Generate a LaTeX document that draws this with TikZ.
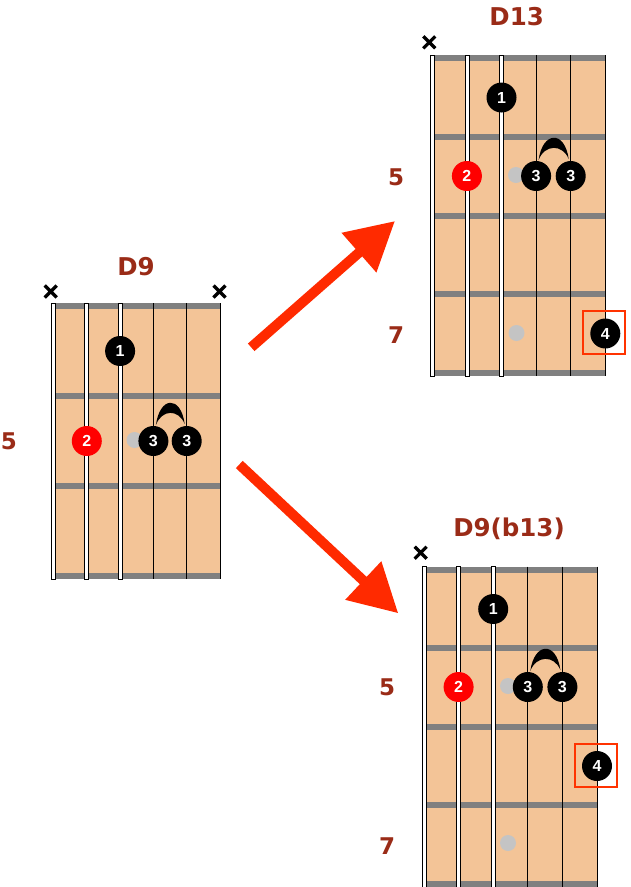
\documentclass[tikz,border=0pt]{standalone}
\usepackage{fontspec}
\setmainfont{DejaVu Sans}
\newfontfamily\dotfont{Liberation Sans}
\usetikzlibrary{arrows.meta,calc}
\definecolor{boardc}{HTML}{F3C497}
\definecolor{fretc}{HTML}{808080}
\definecolor{titlec}{HTML}{9A2B17}
\definecolor{arrowc}{HTML}{FF2A00}
\definecolor{reddot}{HTML}{FF0000}
\definecolor{graydot}{HTML}{C4C4C4}
\definecolor{boxc}{HTML}{FF3300}
\tikzset{
  fdot/.style={circle,fill=black,minimum size=30pt,inner sep=0pt,text=white,font=\dotfont\fontsize{16}{16}\selectfont\bfseries},
  rdot/.style={fdot,fill=reddot},
  gdot/.style={circle,fill=graydot,minimum size=16pt,inner sep=0pt},
  title/.style={anchor=base,inner sep=0pt,text=titlec,font=\fontsize{24.5}{24.5}\selectfont\bfseries},
  fretno/.style={anchor=base,inner sep=0pt,text=titlec,font=\fontsize{23}{23}\selectfont\bfseries},
  mutex/.style={line width=3.3pt},
  bigarrow/.style={arrowc,line width=10pt,-{Triangle[length=48pt,width=50pt]}},
  hlbox/.style={draw=boxc,line width=2pt},
}
% #1 x0, #2 dx, #3 y0, #4 dy, #5 number of frets
\newcommand{\drawboard}[5]{%
  \fill[boardc] (#1,#3) rectangle ({#1+5*#2},{#3+#5*#4});
  \foreach \j in {0,...,#5} \fill[fretc] (#1,{#3+\j*#4-3}) rectangle ({#1+5*#2},{#3+\j*#4+3});
  \foreach \i in {0,1,2} \filldraw[fill=white,draw=black,line width=0.8pt] ({#1+\i*#2-2},{#3-3}) rectangle ({#1+\i*#2+2},{#3+#5*#4+3});
  \foreach \i in {3,4,5} \draw[line width=1pt] ({#1+\i*#2},{#3-3}) -- ({#1+\i*#2},{#3+#5*#4+3});
}
\newcommand{\mutemark}[2]{\draw[mutex] (#1-6,#2-6) -- (#1+6,#2+6) (#1-6,#2+6) -- (#1+6,#2-6);}
% slur between two dots (names)
\newcommand{\slur}[2]{%
  \fill ($(#1)+(2.5,-16)$) .. controls +(4,-29) and +(-4,-29) .. ($(#2)+(-2,-17)$)
        .. controls +(-6,-15) and +(6,-16) .. ($(#1)+(2.5,-16)$);}
\begin{document}
\begin{tikzpicture}[x=1pt,y=-1pt]
\useasboundingbox (0,0) rectangle (630,887);
\fill[white] (0,0) rectangle (630,887);

% ---------- D9 ----------
\drawboard{53.5}{33.3}{306}{90}{3}
\node[title] (t1) at (136,275) {D9};
\mutemark{50.7}{291.5}
\mutemark{219.5}{291.5}
\node[fretno] (f1) at (9,449.3) {5};
\node[gdot] (g1) at (134.5,440) {};
\node[fdot] (a1) at (120.1,351) {1};
\node[rdot] (a2) at (86.8,441) {2};
\node[fdot] (a3) at (153.4,441) {3};
\node[fdot] (a4) at (186.7,441) {3};
\slur{a3}{a4}

% ---------- D13 ----------
\drawboard{432.3}{34.6}{58}{78.75}{4}
\node[title] (t2) at (516.7,25) {D13};
\mutemark{429.3}{42.3}
\node[fretno] (f2) at (396,185) {5};
\node[fretno] (f3) at (396,343.3) {7};
\node[gdot] (g2) at (516,175) {};
\node[gdot] (g3) at (516.5,333) {};
\node[fdot] (b1) at (501.5,97.5) {1};
\node[rdot] (b2) at (466.9,176) {2};
\node[fdot] (b3) at (536.1,176) {3};
\node[fdot] (b4) at (570.7,176) {3};
\node[fdot] (b5) at (605.3,333.5) {4};
\slur{b3}{b4}
\draw[hlbox] (582.5,310.5) rectangle (624.5,353.5);

% ---------- D9(b13) ----------
\drawboard{424}{34.6}{569.5}{78.6}{4}
\node[title] (t3) at (509,536.7) {D9(b13)};
\mutemark{420.7}{552.7}
\node[fretno] (f4) at (387,695.7) {5};
\node[fretno] (f5) at (387,854) {7};
\node[gdot] (g4) at (508,686) {};
\node[gdot] (g5) at (508,843) {};
\node[fdot] (c1) at (493.2,609) {1};
\node[rdot] (c2) at (458.6,687) {2};
\node[fdot] (c3) at (527.8,687) {3};
\node[fdot] (c4) at (562.4,687) {3};
\node[fdot] (c5) at (597,766) {4};
\slur{c3}{c4}
\draw[hlbox] (574.5,743.5) rectangle (616.5,786.5);

% ---------- arrows ----------
\coordinate (u0) at (251.2,347.3);
\coordinate (u1) at (395,221);
\coordinate (l0) at (239.3,464.5);
\coordinate (l1) at (398.3,613.3);
\draw[bigarrow] (u0) -- (u1);
\draw[bigarrow] (l0) -- (l1);
\end{tikzpicture}
\end{document}
